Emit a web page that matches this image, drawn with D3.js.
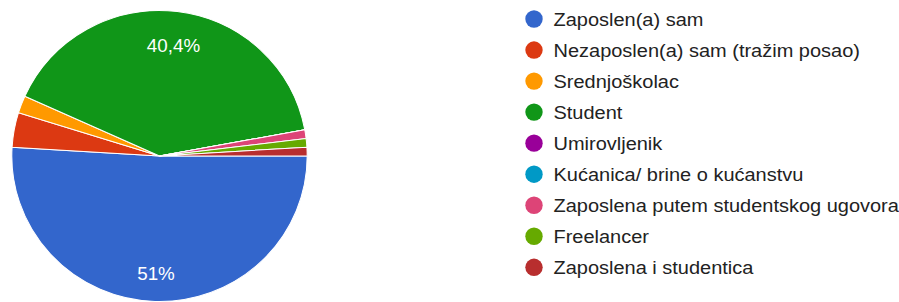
<!DOCTYPE html>
<html>
<head>
<meta charset="utf-8">
<script src="https://cdn.jsdelivr.net/npm/d3@7"></script>
<style>
  html, body { margin: 0; padding: 0; background: #fff; }
  svg { display: block; }
</style>
</head>
<body>
<svg id="chart" width="899" height="302"></svg>
<script>
const categories = [
  "Zaposlen(a) sam",
  "Nezaposlen(a) sam (tražim posao)",
  "Srednjoškolac",
  "Student",
  "Umirovljenik",
  "Kućanica/ brine o kućanstvu",
  "Zaposlena putem studentskog ugovora",
  "Freelancer",
  "Zaposlena i studentica"
];
const values = [53, 4, 2, 42, 0, 0, 1, 1, 1];
const colors = ["#3366cc", "#dc3912", "#ff9900", "#109618", "#990099", "#0099c6", "#dd4477", "#66aa00", "#b82e2e"];
const shownLabels = ["51%", "40,4%"];

const svg = d3.select("#chart");
const cx = 159.5, cy = 156, r = 145.5, sx = 1.015;

const total = d3.sum(values);
const pie = d3.pie().sort(null).value(d => d)
  .startAngle(Math.PI / 2).endAngle(Math.PI / 2 + 2 * Math.PI);
const arcs = pie(values);
const arc = d3.arc().innerRadius(0).outerRadius(r);
const labelArc = d3.arc().innerRadius(114).outerRadius(114);

const g = svg.append("g").attr("transform", `translate(${cx},${cy}) scale(${sx},1)`);
g.selectAll("path.slice").data(arcs).join("path")
  .attr("class", "slice")
  .attr("d", arc)
  .attr("fill", (d, i) => colors[i])
  .attr("stroke", "#fff")
  .attr("stroke-width", 1);

const fmt = v => {
  const p = v / total * 100;
  const s = Math.abs(p - Math.round(p)) < 0.05 ? String(Math.round(p)) : p.toFixed(1).replace(".", ",");
  return s + "%";
};

g.selectAll("text.pct").data(arcs.filter(d => shownLabels.includes(fmt(d.value)))).join("text")
  .attr("class", "pct")
  .attr("x", d => labelArc.centroid(d)[0])
  .attr("y", d => labelArc.centroid(d)[1])
  .attr("dy", "0.52em")
  .attr("text-anchor", "middle")
  .attr("fill", "#fff")
  .style("font-family", "Arial, 'Liberation Sans', sans-serif")
  .style("font-size", "18.5px")
  .text(d => fmt(d.value));

const legendY = d3.scalePoint().domain(categories).range([19, 267.3]);
const lg = svg.append("g");
const items = lg.selectAll("g").data(categories).join("g")
  .attr("transform", d => `translate(534,${legendY(d)})`);
items.append("circle").attr("r", 8.7).attr("fill", (d, i) => colors[i]);
items.append("text")
  .attr("transform", "translate(19.5,0) scale(1.08,1)")
  .attr("dy", "0.36em")
  .attr("fill", "#222")
  .style("font-family", "Arial, 'Liberation Sans', sans-serif")
  .style("font-size", "18.5px")
  .text(d => d);
</script>
</body>
</html>
